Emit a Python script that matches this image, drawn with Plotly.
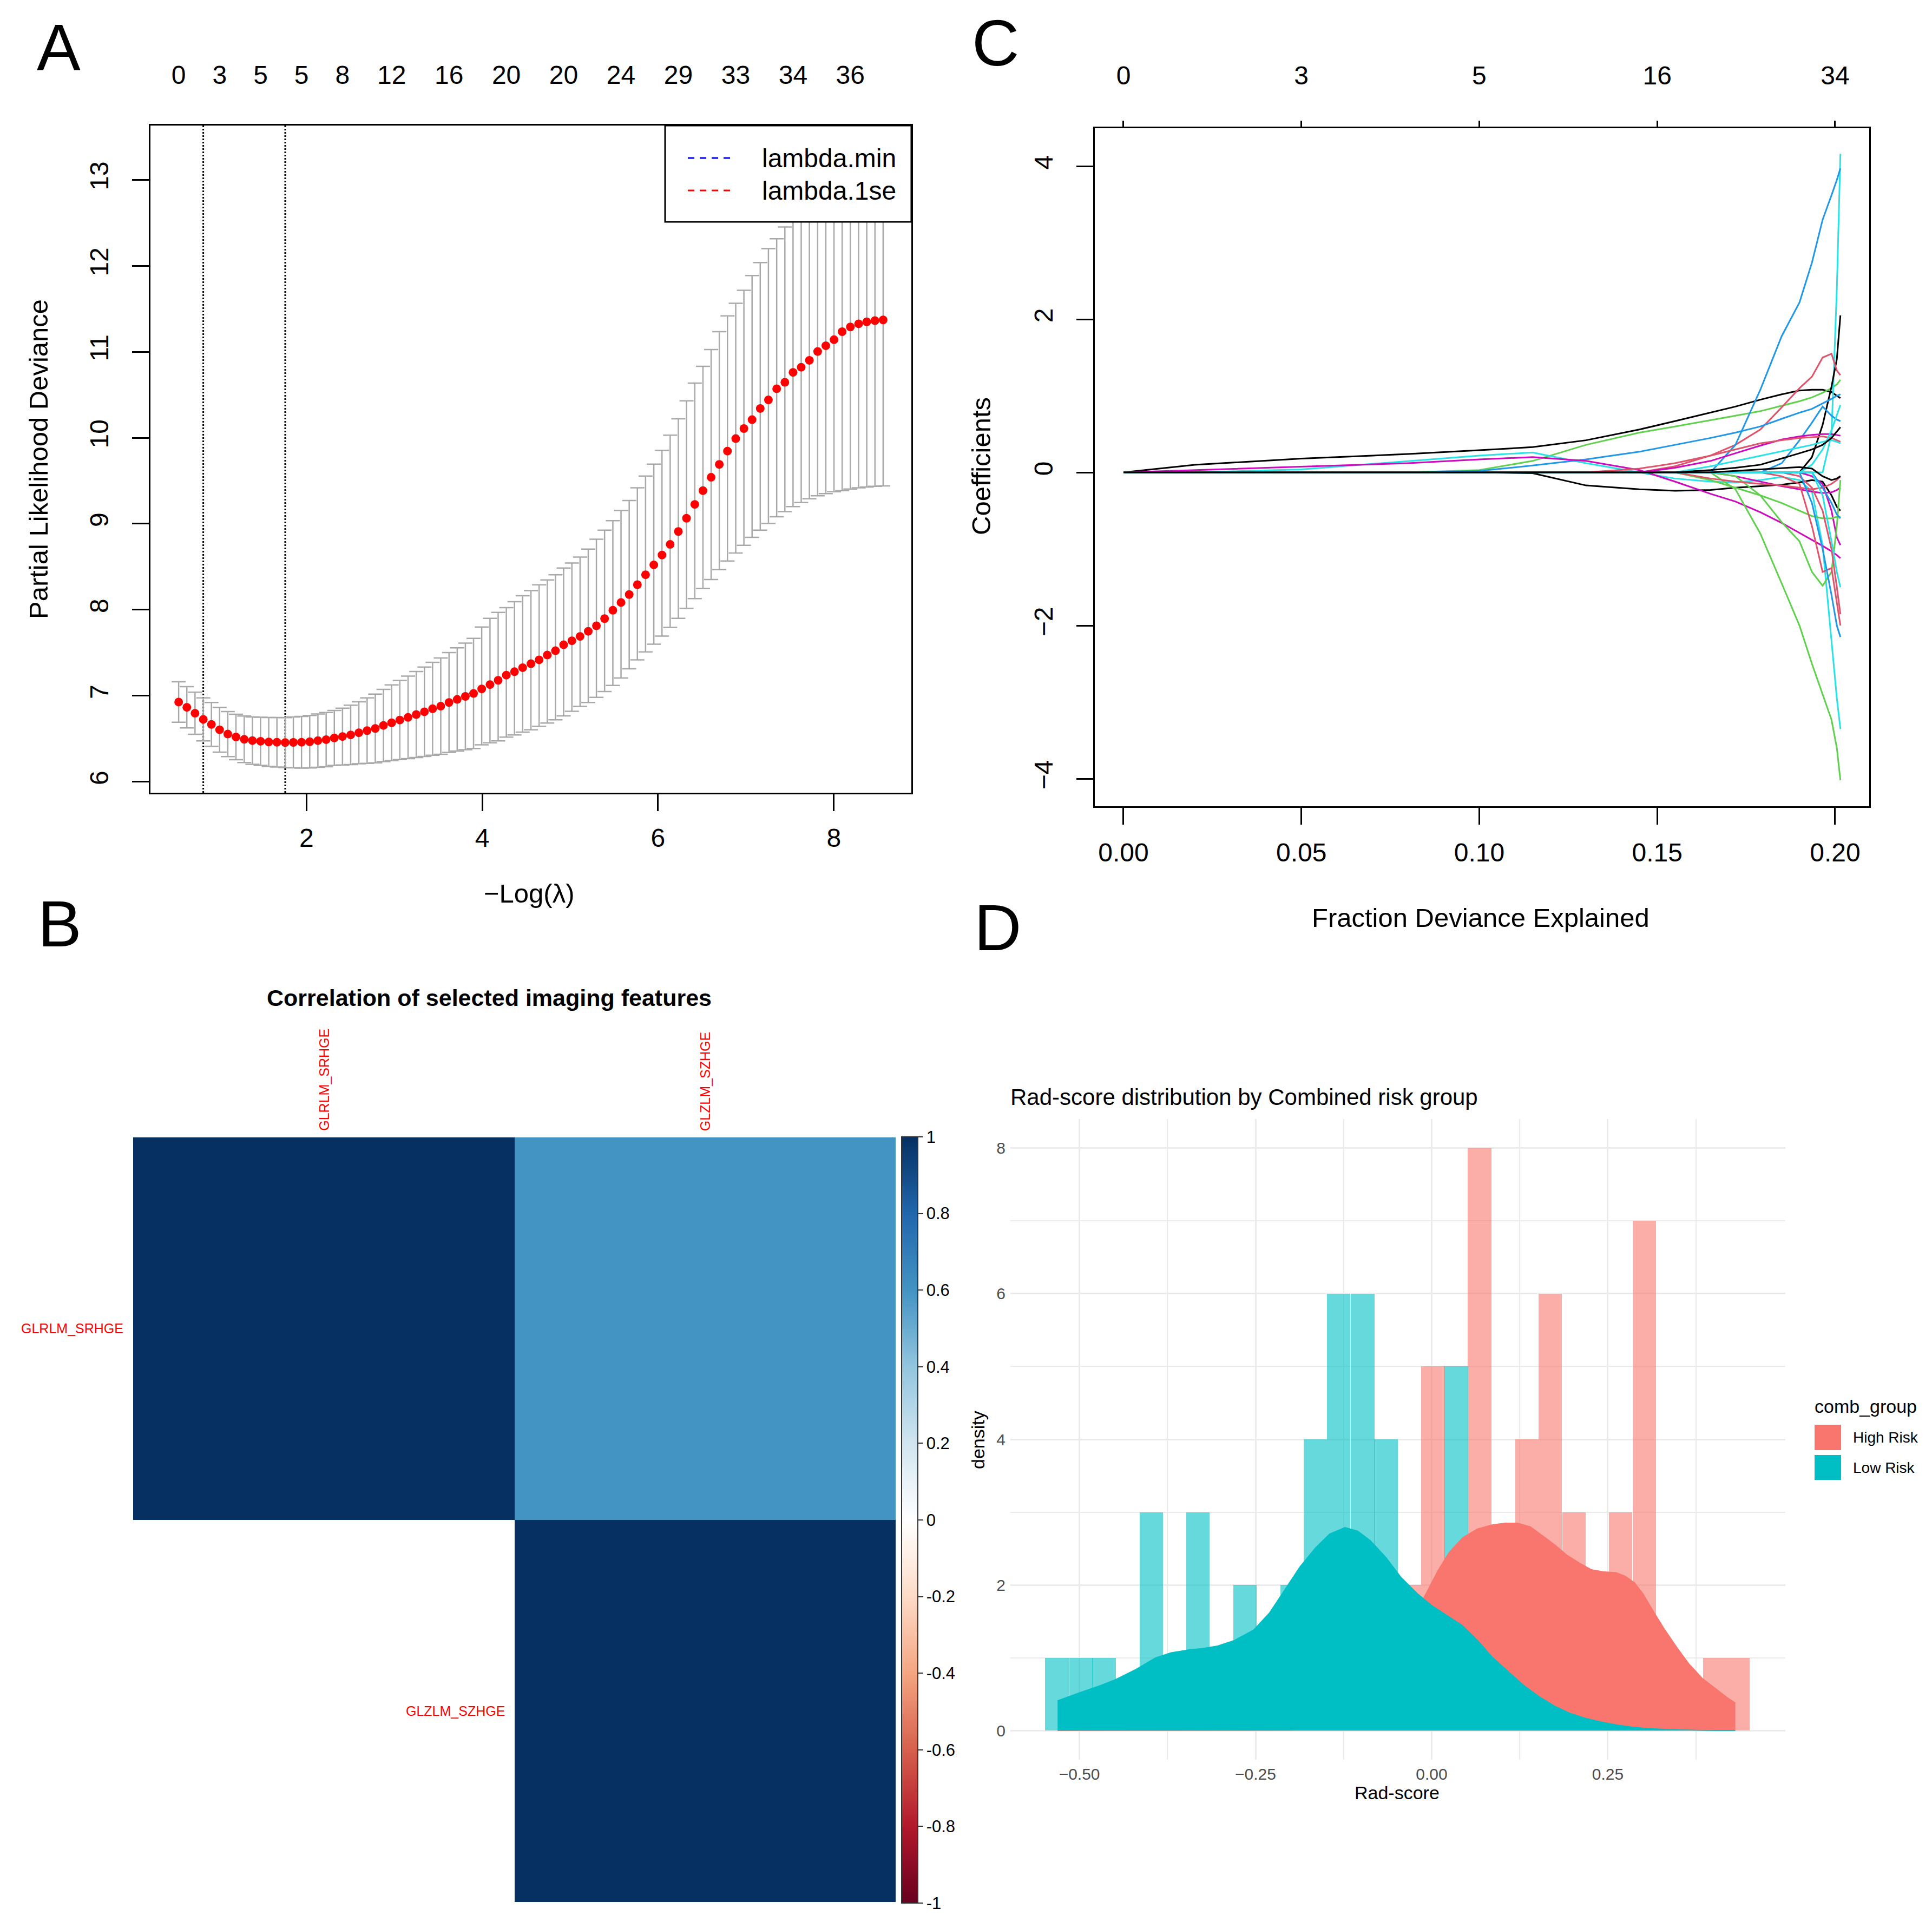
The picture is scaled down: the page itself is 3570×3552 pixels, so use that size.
import plotly.graph_objects as go

W, H = 3570, 3552
FONT = "Liberation Sans, Arial, sans-serif"

# ---------------- Panel A : cv.glmnet deviance curve ----------------
log_lambda = [0.546, 0.639, 0.732, 0.826, 0.919, 1.012, 1.105, 1.198, 1.292, 1.385,
              1.478, 1.571, 1.664, 1.758, 1.851, 1.944, 2.037, 2.130, 2.224, 2.317,
              2.410, 2.503, 2.596, 2.690, 2.783, 2.876, 2.969, 3.062, 3.156, 3.249,
              3.342, 3.435, 3.528, 3.622, 3.715, 3.808, 3.901, 3.994, 4.088, 4.181,
              4.274, 4.367, 4.460, 4.554, 4.647, 4.740, 4.833, 4.926, 5.020, 5.113,
              5.206, 5.299, 5.392, 5.486, 5.579, 5.672, 5.765, 5.858, 5.952, 6.045,
              6.138, 6.231, 6.324, 6.418, 6.511, 6.604, 6.697, 6.790, 6.884, 6.977,
              7.070, 7.163, 7.256, 7.350, 7.443, 7.536, 7.629, 7.722, 7.816, 7.909,
              8.002, 8.095, 8.188, 8.282, 8.375, 8.468, 8.561]
cvm = [6.927, 6.866, 6.797, 6.726, 6.667, 6.605, 6.555, 6.521, 6.494, 6.479,
       6.471, 6.463, 6.460, 6.456, 6.458, 6.460, 6.466, 6.479, 6.490, 6.510,
       6.526, 6.545, 6.570, 6.595, 6.620, 6.655, 6.686, 6.718, 6.749, 6.782,
       6.814, 6.849, 6.879, 6.922, 6.958, 6.993, 7.027, 7.080, 7.130, 7.180,
       7.240, 7.280, 7.327, 7.373, 7.418, 7.474, 7.524, 7.593, 7.640, 7.690,
       7.750, 7.814, 7.897, 7.994, 8.085, 8.177, 8.292, 8.407, 8.522, 8.637,
       8.760, 8.910, 9.064, 9.225, 9.385, 9.540, 9.690, 9.845, 9.990, 10.107,
       10.210, 10.340, 10.440, 10.570, 10.645, 10.760, 10.820, 10.900, 11.003, 11.070,
       11.140, 11.233, 11.288, 11.325, 11.348, 11.362, 11.370]
cvup = [7.162, 7.106, 7.042, 6.976, 6.922, 6.865, 6.817, 6.786, 6.764, 6.754,
        6.751, 6.748, 6.748, 6.746, 6.753, 6.760, 6.771, 6.789, 6.805, 6.830,
        6.856, 6.890, 6.930, 6.975, 7.020, 7.075, 7.126, 7.178, 7.229, 7.282,
        7.334, 7.389, 7.439, 7.502, 7.558, 7.613, 7.667, 7.800, 7.900, 7.970,
        8.025, 8.094, 8.163, 8.223, 8.290, 8.347, 8.407, 8.485, 8.544, 8.613,
        8.705, 8.820, 8.926, 9.036, 9.156, 9.270, 9.418, 9.555, 9.693, 9.854,
        10.030, 10.220, 10.430, 10.636, 10.830, 11.026, 11.233, 11.417, 11.564, 11.715,
        11.885, 12.037, 12.198, 12.313, 12.450, 12.580, 12.700, 12.820, 12.930, 13.030,
        13.120, 13.200, 13.260, 13.300, 13.320, 13.330, 13.340]
cvlo = [6.692, 6.626, 6.552, 6.476, 6.412, 6.345, 6.293, 6.256, 6.224, 6.204,
        6.191, 6.178, 6.172, 6.166, 6.163, 6.160, 6.161, 6.169, 6.175, 6.190,
        6.196, 6.200, 6.210, 6.215, 6.220, 6.235, 6.246, 6.258, 6.269, 6.282,
        6.294, 6.309, 6.319, 6.342, 6.358, 6.373, 6.387, 6.430, 6.453, 6.476,
        6.520, 6.545, 6.577, 6.605, 6.646, 6.683, 6.720, 6.766, 6.820, 6.876,
        6.922, 6.982, 7.050, 7.120, 7.207, 7.313, 7.418, 7.510, 7.600, 7.694,
        7.795, 7.900, 8.016, 8.130, 8.246, 8.352, 8.466, 8.567, 8.660, 8.750,
        8.843, 8.926, 9.004, 9.082, 9.142, 9.200, 9.247, 9.290, 9.325, 9.350,
        9.372, 9.385, 9.404, 9.418, 9.427, 9.436, 9.440]
nz_label_idx = [0, 5, 10, 15, 20, 26, 33, 40, 47, 54, 61, 68, 75, 82]
nz_labels = ["0", "3", "5", "5", "8", "12", "16", "20", "20", "24", "29", "33", "34", "36"]
lambda_1se_idx = 3
lambda_min_idx = 13
a_xticks = [2, 4, 6, 8]
a_yticks = [6, 7, 8, 9, 10, 11, 12, 13]
a_legend_names = ["lambda.min", "lambda.1se"]
a_legend_colors = ["#0000FF", "#FF0000"]

# ---------------- Panel C : coefficient paths ----------------
dev_grid = [0.0, 0.02, 0.05, 0.08, 0.10, 0.115, 0.13, 0.145, 0.155, 0.165,
            0.172, 0.179, 0.185, 0.19, 0.1935, 0.1965, 0.199, 0.2005, 0.2015]
path_colors = ["#000000", "#DF536B", "#61D04F", "#2297E6", "#28E2E5", "#CD0BBC"]
coef_paths = [
    (0, [0, 0.10, 0.18, 0.24, 0.29, 0.33, 0.42, 0.56, 0.67, 0.78, 0.86, 0.95, 1.02, 1.07, 1.08, 1.08, 1.05, 1.00, 0.97]),
    (2, [0, 0, 0, 0, 0.03, 0.15, 0.36, 0.52, 0.60, 0.68, 0.74, 0.80, 0.87, 0.93, 0.98, 1.04, 1.10, 1.15, 1.21]),
    (4, [0, 0, 0.04, 0.15, 0.22, 0.26, 0.12, 0.0, -0.08, -0.12, -0.13, -0.10, -0.06, -0.10, -0.25, -0.95, -2.20, -2.95, -3.35]),
    (4, [0, 0, 0, 0, 0, 0, 0, 0, 0, 0, 0, 0, 0, 0, 0, 0, 0.50, 2.40, 4.16]),
    (0, [0, 0, 0, 0, 0, 0, 0, 0, 0, 0, 0, 0, 0, 0, 0.20, 0.62, 1.12, 1.48, 2.05]),
    (0, [0, 0, 0, 0, 0, -0.01, -0.17, -0.22, -0.24, -0.23, -0.20, -0.18, -0.16, -0.13, -0.10, -0.12, -0.30, -0.45, -0.50]),
    (1, [0, 0, 0, 0, 0, 0, 0, 0, 0.08, 0.22, 0.36, 0.56, 0.85, 1.10, 1.25, 1.50, 1.55, 1.33, 1.27]),
    (3, [0, 0, 0, 0, 0, 0, 0, 0, 0, 0, 0.36, 1.08, 1.78, 2.22, 2.74, 3.30, 3.62, 3.82, 3.97]),
    (3, [0, 0, 0, 0, 0.02, 0.09, 0.17, 0.27, 0.36, 0.45, 0.52, 0.60, 0.70, 0.78, 0.83, 0.90, 0.96, 1.00, 1.02]),
    (3, [0, 0, 0, 0, 0, 0, 0, 0, 0, 0, 0, 0, 0.12, 0.42, 0.65, 0.86, 0.74, 0.69, 0.67]),
    (5, [0, 0.03, 0.07, 0.12, 0.17, 0.20, 0.15, 0.03, -0.12, -0.28, -0.38, -0.52, -0.66, -0.79, -0.88, -0.96, -1.03, -1.08, -1.12]),
    (5, [0, 0, 0, 0, 0, 0, 0, 0, 0.06, 0.15, 0.25, 0.35, 0.43, 0.47, 0.49, 0.50, 0.50, 0.49, 0.48]),
    (5, [0, 0, 0, 0, 0, 0, 0, 0, 0, 0, -0.05, -0.12, -0.18, -0.22, -0.25, -0.27, -0.26, -0.23, -0.20]),
    (5, [0, 0, 0, 0, 0, 0, 0, 0, 0, 0, 0, 0, 0, 0, -0.05, -0.15, -0.50, -0.85, -0.95]),
    (2, [0, 0, 0, 0, 0, 0, 0, 0, 0, 0, -0.22, -0.80, -1.45, -2.00, -2.50, -2.90, -3.23, -3.60, -4.02]),
    (2, [0, 0, 0, 0, 0, 0, 0, 0, 0, 0, -0.05, -0.30, -0.65, -0.90, -1.30, -1.48, -1.30, -0.70, -0.10]),
    (2, [0, 0, 0, 0, 0, 0, 0, 0, 0, -0.10, -0.20, -0.30, -0.40, -0.50, -0.57, -0.60, -0.60, -0.58, -0.58]),
    (1, [0, 0, 0, 0, 0, 0, 0, 0, 0, 0, 0, 0, -0.05, -0.15, -0.70, -1.30, -1.25, -1.70, -2.00]),
    (1, [0, 0, 0, 0, 0, 0, 0, 0, 0, 0, 0, 0, 0, -0.05, -0.20, -0.50, -1.00, -1.50, -1.85]),
    (1, [0, 0, 0, 0, 0, 0, 0, 0.05, 0.12, 0.22, 0.30, 0.38, 0.42, 0.45, 0.46, 0.47, 0.45, 0.42, 0.40]),
    (1, [0, 0, 0, 0, 0, 0, 0, 0, 0, -0.08, -0.12, -0.15, -0.17, -0.20, -0.22, -0.20, -0.15, -0.10, -0.05]),
    (3, [0, 0, 0, 0, 0, 0, 0, 0, 0, 0, 0, 0, 0, 0, -0.40, -1.00, -1.60, -2.00, -2.15]),
    (3, [0, 0, 0, 0, 0, 0, 0, 0, 0, 0, 0, 0, 0, 0, 0, -0.20, -0.40, -0.55, -0.60]),
    (4, [0, 0, 0, 0, 0, 0, 0, 0, 0, 0.08, 0.15, 0.22, 0.28, 0.33, 0.36, 0.40, 0.42, 0.40, 0.38]),
    (4, [0, 0, 0, 0, 0, 0, 0, 0, 0, 0, 0, 0, 0, 0, 0.10, 0.30, 0.55, 0.75, 0.88]),
    (4, [0, 0, 0, 0, 0, 0, 0, 0, 0, 0, 0, 0, 0, 0, 0, -0.30, -0.90, -1.30, -1.50]),
    (0, [0, 0, 0, 0, 0, 0, 0, 0, 0, 0.03, 0.06, 0.10, 0.18, 0.25, 0.30, 0.36, 0.45, 0.53, 0.59]),
    (0, [0, 0, 0, 0, 0, 0, 0, 0, 0, 0, 0.02, 0.04, 0.06, 0.07, 0.05, -0.05, -0.10, -0.08, -0.05]),
]
c_xticks = [0.0, 0.05, 0.10, 0.15, 0.20]
c_top_labels = ["0", "3", "5", "16", "34"]
c_yticks = [-4, -2, 0, 2, 4]

# ---------------- Panel B : correlation matrix ----------------
features = ["GLRLM_SRHGE", "GLZLM_SZHGE"]
corr = [[1.0, 0.6],
        [None, 1.0]]
rdbu = ["#67001F", "#B2182B", "#D6604D", "#F4A582", "#FDDBC7", "#FFFFFF",
        "#D1E5F0", "#92C5DE", "#4393C3", "#2166AC", "#053061"]
cb_ticks = [-1, -0.8, -0.6, -0.4, -0.2, 0, 0.2, 0.4, 0.6, 0.8, 1]
cb_labels = ["-1", "-0.8", "-0.6", "-0.4", "-0.2", "0", "0.2", "0.4", "0.6", "0.8", "1"]

# ---------------- Panel D : Rad-score histogram + density ----------------
bin_centers = [-0.532, -0.498, -0.465, -0.432, -0.398, -0.365, -0.332, -0.298, -0.265, -0.232,
               -0.198, -0.165, -0.132, -0.098, -0.065, -0.032, 0.002, 0.035, 0.068, 0.102,
               0.135, 0.168, 0.202, 0.235, 0.268, 0.302, 0.335, 0.368, 0.402, 0.435]
bin_width = 0.0333
high_counts = [0, 0, 0, 0, 0, 0, 0, 0, 0, 0, 0, 0, 0, 0, 1, 2, 5, 2, 8, 2, 4, 6, 3, 2, 3, 7, 1, 0, 1, 1]
low_counts = [1, 1, 1, 0, 3, 1, 3, 1, 2, 1, 2, 4, 6, 6, 4, 1, 1, 5, 0, 0, 0, 0, 0, 0, 0, 0, 0, 0, 0, 0]
high_dens_x = [-0.531, -0.45, -0.35, -0.25, -0.20, -0.16, -0.13, -0.10, -0.075, -0.05, -0.03, -0.013,
               0.009, 0.025, 0.044, 0.065, 0.087, 0.105, 0.122, 0.14, 0.157, 0.175, 0.192, 0.21,
               0.227, 0.245, 0.262, 0.275, 0.288, 0.30, 0.314, 0.33, 0.349, 0.365, 0.384, 0.40,
               0.41, 0.42, 0.431]
high_dens_y = [0.0, 0.0, 0.0, 0.0, 0.005, 0.015, 0.04, 0.12, 0.35, 0.85, 1.35, 1.79,
               2.20, 2.45, 2.65, 2.77, 2.83, 2.85, 2.85, 2.80, 2.68, 2.55, 2.41, 2.30,
               2.21, 2.18, 2.17, 2.12, 2.03, 1.88, 1.65, 1.40, 1.13, 0.92, 0.72, 0.60,
               0.52, 0.45, 0.38]
low_dens_x = [-0.531, -0.50, -0.47, -0.449, -0.42, -0.392, -0.37, -0.344, -0.325, -0.305,
              -0.28, -0.253, -0.23, -0.209, -0.187, -0.165, -0.145, -0.123, -0.105, -0.087,
              -0.065, -0.043, -0.02, 0.0, 0.022, 0.044, 0.065, 0.087, 0.11, 0.131,
              0.152, 0.174, 0.196, 0.218, 0.24, 0.262, 0.284, 0.305, 0.35, 0.40, 0.431]
low_dens_y = [0.41, 0.52, 0.62, 0.70, 0.84, 1.00, 1.07, 1.11, 1.13, 1.16,
              1.24, 1.38, 1.62, 1.93, 2.25, 2.51, 2.70, 2.79, 2.74, 2.61,
              2.38, 2.10, 1.88, 1.72, 1.58, 1.44, 1.24, 1.00, 0.80, 0.62,
              0.47, 0.34, 0.24, 0.17, 0.12, 0.08, 0.05, 0.03, 0.01, 0.0, 0.0]
groups = ["High Risk", "Low Risk"]
group_colors = ["#F8766D", "#00BFC4"]
group_bar_colors = ["rgba(248,118,109,0.6)", "rgba(0,191,196,0.6)"]
d_xticks = [-0.50, -0.25, 0.0, 0.25]
d_xminor = [-0.375, -0.125, 0.125, 0.375]
d_yticks = [0, 2, 4, 6, 8]
d_yminor = [1, 3, 5, 7]


def px_x(p):
    return p / W


def px_y(p):
    return 1 - p / H


fig = go.Figure()

# ---- A traces
fig.add_trace(go.Scatter(
    x=log_lambda, y=cvm, mode="markers",
    marker=dict(color="#FF0000", size=16),
    error_y=dict(type="data", symmetric=False,
                 array=[u - m for u, m in zip(cvup, cvm)],
                 arrayminus=[m - l for m, l in zip(cvm, cvlo)],
                 color="#A9A9A9", thickness=2.5, width=13),
    xaxis="x", yaxis="y", showlegend=False, hoverinfo="skip"))
fig.add_trace(go.Scatter(x=[log_lambda[i] for i in nz_label_idx],
                         y=[cvm[i] for i in nz_label_idx], mode="markers",
                         marker=dict(opacity=0), xaxis="x2", yaxis="y",
                         showlegend=False, hoverinfo="skip"))

# ---- C traces
for ci, vals in coef_paths:
    fig.add_trace(go.Scatter(x=dev_grid, y=vals, mode="lines",
                             line=dict(color=path_colors[ci], width=3),
                             xaxis="x3", yaxis="y3", showlegend=False, hoverinfo="skip"))
fig.add_trace(go.Scatter(x=c_xticks, y=[0] * len(c_xticks), mode="markers",
                         marker=dict(opacity=0), xaxis="x4", yaxis="y3",
                         showlegend=False, hoverinfo="skip"))

# ---- B heatmap
fig.add_trace(go.Heatmap(
    z=corr, x=[0, 1], y=[0, 1], zmin=-1, zmax=1,
    colorscale=[[i / (len(rdbu) - 1), c] for i, c in enumerate(rdbu)],
    xaxis="x5", yaxis="y5", hoverinfo="skip",
    colorbar=dict(x=px_x(1658), xanchor="left", xpad=0, ypad=0,
                  y=px_y(2801), yanchor="middle", len=1416, lenmode="pixels",
                  thickness=30, thicknessmode="pixels",
                  outlinewidth=2, outlinecolor="#333333",
                  tickmode="array", tickvals=cb_ticks, ticktext=cb_labels,
                  ticks="outside", ticklen=9, tickwidth=2, tickcolor="#333333",
                  tickfont=dict(family=FONT, size=31, color="#000000"))))

# ---- D traces
for cnts, col in zip([high_counts, low_counts], group_bar_colors):
    fig.add_trace(go.Bar(x=bin_centers, y=cnts, width=bin_width,
                         marker=dict(color=col, line=dict(width=0)),
                         xaxis="x6", yaxis="y6", showlegend=False, hoverinfo="skip"))
for dx, dy, col in zip([high_dens_x, low_dens_x], [high_dens_y, low_dens_y], group_colors):
    fig.add_trace(go.Scatter(x=dx, y=dy, mode="lines", fill="tozeroy", fillcolor=col,
                             line=dict(color=col, width=1.5),
                             xaxis="x6", yaxis="y6", showlegend=False, hoverinfo="skip"))

rbox = dict(showline=True, linewidth=3, linecolor="#000000", mirror=True,
            ticks="outside", ticklen=31, tickwidth=3, tickcolor="#000000",
            showgrid=False, zeroline=False,
            tickfont=dict(family=FONT, size=48, color="#000000"))

fig.update_layout(
    width=W, height=H, autosize=False,
    margin=dict(l=0, r=0, t=0, b=0),
    paper_bgcolor="white", plot_bgcolor="white",
    barmode="overlay", bargap=0, showlegend=False,
    font=dict(family=FONT, color="#000000"),
    xaxis=dict(domain=[px_x(270), px_x(1676)], range=[0.225, 8.882], anchor="y",
               tickmode="array", tickvals=a_xticks, ticklabelstandoff=8, **rbox),
    yaxis=dict(domain=[px_y(1457), px_y(224)], range=[5.873, 13.63], anchor="x",
               tickmode="array", tickvals=a_yticks, tickangle=-90, ticklabelstandoff=25, **rbox),
    xaxis2=dict(overlaying="x", side="top", anchor="y", range=[0.225, 8.882],
                tickmode="array", tickvals=[log_lambda[i] for i in nz_label_idx],
                ticktext=nz_labels, ticks="", showline=False, showgrid=False, zeroline=False,
                ticklabelstandoff=66,
                tickfont=dict(family=FONT, size=48, color="#000000")),
    xaxis3=dict(domain=[px_x(2015), px_x(3446)], range=[-0.00806, 0.2096], anchor="y3",
                tickmode="array", tickvals=c_xticks, tickformat=".2f", ticklabelstandoff=10, **rbox),
    yaxis3=dict(domain=[px_y(1482), px_y(229)], range=[-4.36, 4.495], anchor="x3",
                tickmode="array", tickvals=c_yticks, tickangle=-90, ticklabelstandoff=25, **rbox),
    xaxis4=dict(overlaying="x3", side="top", anchor="y3", range=[-0.00806, 0.2096],
                tickmode="array", tickvals=c_xticks, ticktext=c_top_labels,
                ticks="outside", ticklen=13, tickwidth=3, tickcolor="#000000",
                showline=False, showgrid=False, zeroline=False, ticklabelstandoff=48,
                tickfont=dict(family=FONT, size=48, color="#000000")),
    xaxis5=dict(domain=[px_x(238), px_x(1647)], range=[-0.5, 1.5], anchor="y5", visible=False),
    yaxis5=dict(domain=[px_y(3507), px_y(2094)], range=[1.5, -0.5], anchor="x5", visible=False),
    xaxis6=dict(domain=[px_x(1859), px_x(3291)], range=[-0.598, 0.502], anchor="y6",
                tickmode="array", tickvals=d_xticks, tickformat=".2f",
                showline=False, zeroline=False, ticks="",
                showgrid=True, gridcolor="#EBEBEB", gridwidth=3,
                minor=dict(tickmode="array", tickvals=d_xminor, showgrid=True,
                           gridcolor="#EBEBEB", gridwidth=1.5, ticks=""),
                ticklabelstandoff=6,
                tickfont=dict(family=FONT, size=30, color="#4D4D4D")),
    yaxis6=dict(domain=[px_y(3244), px_y(2060)], range=[-0.4, 8.4], anchor="x6",
                tickmode="array", tickvals=d_yticks,
                showline=False, zeroline=False, ticks="",
                showgrid=True, gridcolor="#EBEBEB", gridwidth=3,
                minor=dict(tickmode="array", tickvals=d_yminor, showgrid=True,
                           gridcolor="#EBEBEB", gridwidth=1.5, ticks=""),
                ticklabelstandoff=8,
                tickfont=dict(family=FONT, size=30, color="#4D4D4D")),
)

# dotted lines at lambda.1se / lambda.min
for idx in (lambda_1se_idx, lambda_min_idx):
    fig.add_shape(type="line", xref="x", yref="y domain",
                  x0=log_lambda[idx], x1=log_lambda[idx], y0=0, y1=1,
                  line=dict(color="#000000", width=3, dash="dot"), layer="below")

# legend box of panel A (R legend(): box, dashed keys, labels)
fig.add_shape(type="rect", xref="paper", yref="paper",
              x0=px_x(1221), x1=px_x(1676), y0=px_y(402), y1=px_y(224),
              fillcolor="white", line=dict(color="#000000", width=3), layer="above")
for col, yc in zip(a_legend_colors, [284, 344]):
    fig.add_shape(type="line", xref="paper", yref="paper",
                  x0=px_x(1263), x1=px_x(1350), y0=px_y(yc), y1=px_y(yc),
                  line=dict(color=col, width=3, dash="12px,10px"), layer="above")

ann = []


def text(t, xp, yp, size, color="#000000", angle=0, xanchor="center", yanchor="middle", weight="normal"):
    ann.append(dict(text=t, x=px_x(xp), y=px_y(yp), xref="paper", yref="paper",
                    showarrow=False, textangle=angle, xanchor=xanchor, yanchor=yanchor,
                    font=dict(family=FONT, size=size, color=color, weight=weight)))


for name, yc in zip(a_legend_names, [284, 344]):
    text(name, 1398, yc, 48, xanchor="left")
# panel letters
text("A", 100, 79, 121)
text("B", 102, 1699, 121)
text("C", 1832, 71, 121)
text("D", 1836, 1706, 121)
# panel A titles
text("Partial Likelihood Deviance", 63, 841, 49, angle=-90)
text("\u2212Log(\u03bb)", 970, 1643, 49)
# panel C titles
text("Coefficients", 1805, 854, 49, angle=-90)
text("Fraction Deviance Explained", 2728, 1688, 49)
# panel B title
text("Correlation of selected imaging features", 896, 1836, 43, weight="bold")
# panel D titles
text("Rad-score distribution by Combined risk group", 1857, 2019, 42, xanchor="left")
text("density", 1799, 2653, 34, angle=-90)
text("Rad-score", 2573, 3305, 34)
text("comb_group", 3343, 2591, 34, xanchor="left")
for g, yc in zip(groups, [2648, 2704]):
    text(g, 3414, yc, 28, xanchor="left")

# panel B labels (heatmap axes)
for i, f in enumerate(features):
    ann.append(dict(text=f, x=i, y=1, xref="x5", yref="y5 domain", showarrow=False,
                    textangle=-90, xanchor="center", yanchor="bottom", yshift=10,
                    font=dict(family=FONT, size=25, color="#FF0000")))
    ann.append(dict(text=f, x=i - 0.5, y=i, xref="x5", yref="y5", showarrow=False,
                    xanchor="right", yanchor="middle", xshift=-16,
                    font=dict(family=FONT, size=25, color="#FF0000")))
fig.update_layout(annotations=ann)

# legend keys for panel D
for col, (y0, y1) in zip(group_colors, [(2625, 2672), (2681, 2727)]):
    fig.add_shape(type="rect", xref="paper", yref="paper",
                  x0=px_x(3345), x1=px_x(3394), y0=px_y(y1), y1=px_y(y0),
                  fillcolor=col, line=dict(width=0))

fig.write_html("out.html")
